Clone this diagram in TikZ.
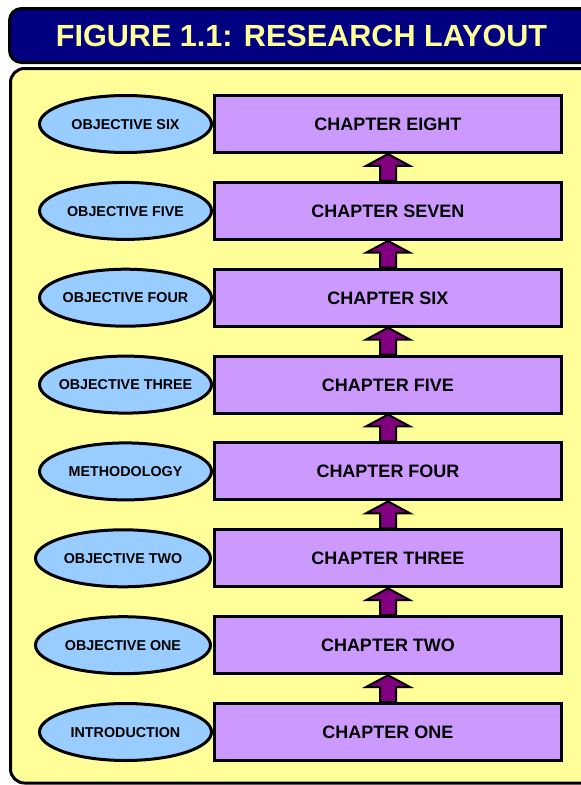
\documentclass[tikz,border=0pt]{standalone}
\usepackage{fontspec}
\setmainfont{Liberation Sans}
\usetikzlibrary{shapes.geometric}
\definecolor{navy}{HTML}{000080}
\definecolor{paleyellow}{HTML}{FFFF99}
\definecolor{lilac}{HTML}{CC99FF}
\definecolor{skyblue}{HTML}{99CCFF}
\definecolor{plum}{HTML}{800080}
\tikzset{
  chapbox/.style={draw=black, line width=3pt, fill=lilac, minimum width=347pt, minimum height=57pt,
    inner sep=0pt, font=\fontsize{18}{20}\selectfont\bfseries, text height=12.9pt, text depth=0pt},
  objell/.style={ellipse, draw=black, line width=3pt, fill=skyblue, minimum width=172pt, minimum height=57pt,
    inner xsep=-14pt, inner ysep=0pt, font=\fontsize{14.3}{16}\selectfont\bfseries, text height=10.2pt, text depth=0pt},
  uparrow/.style={draw=black, line width=2pt, fill=plum, line join=miter},
}
\newcommand{\blockarrow}[2]{%
  \draw[uparrow] ([xshift=-8pt]#1.north) -- ([xshift=-8pt,yshift=15pt]#1.north)
    -- ([xshift=-22pt,yshift=15pt]#1.north) -- (#2.south)
    -- ([xshift=22pt,yshift=15pt]#1.north) -- ([xshift=8pt,yshift=15pt]#1.north)
    -- ([xshift=8pt]#1.north) -- cycle;}
\begin{document}
\begin{tikzpicture}[x=1pt,y=-1pt]
\useasboundingbox (0,0) rectangle (581,785);
\fill[white] (0,0) rectangle (581,785);
% title banner
\draw[line width=3pt, fill=navy, rounded corners=12pt] (9.5,8.5) rectangle (610,62.5);
\node[anchor=base, text=paleyellow, font=\fontsize{30.6}{33}\selectfont\bfseries] (title) at (301.5,46) {FIGURE 1.1: RESEARCH LAYOUT};
% panel
\draw[line width=3pt, fill=paleyellow, rounded corners=14pt] (10.5,68.5) rectangle (610,783);
% chapters
\node[chapbox] (c8) at (388,124) {CHAPTER EIGHT};
\node[chapbox] (c7) at (388,210.9) {CHAPTER SEVEN};
\node[chapbox] (c6) at (388,297.7) {CHAPTER SIX};
\node[chapbox] (c5) at (388,384.6) {CHAPTER FIVE};
\node[chapbox] (c4) at (388,471.4) {CHAPTER FOUR};
\node[chapbox] (c3) at (388,558.3) {CHAPTER THREE};
\node[chapbox] (c2) at (388,645.2) {CHAPTER TWO};
\node[chapbox] (c1) at (388,732) {CHAPTER ONE};
% objectives
\node[objell] (o6) at (125.5,124) {OBJECTIVE SIX};
\node[objell] (o5) at (125.5,210.9) {OBJECTIVE FIVE};
\node[objell] (o4) at (125.5,297.7) {OBJECTIVE FOUR};
\node[objell] (o3) at (125.5,384.6) {OBJECTIVE THREE};
\node[objell] (om) at (125.5,471.4) {METHODOLOGY};
\node[objell, minimum width=175pt] (o2) at (123,558.3) {OBJECTIVE TWO};
\node[objell, minimum width=175pt] (o1) at (123,645.2) {OBJECTIVE ONE};
\node[objell] (oi) at (125.5,732) {INTRODUCTION};
% arrows
\blockarrow{c1}{c2}
\blockarrow{c2}{c3}
\blockarrow{c3}{c4}
\blockarrow{c4}{c5}
\blockarrow{c5}{c6}
\blockarrow{c6}{c7}
\blockarrow{c7}{c8}
\end{tikzpicture}
\end{document}
